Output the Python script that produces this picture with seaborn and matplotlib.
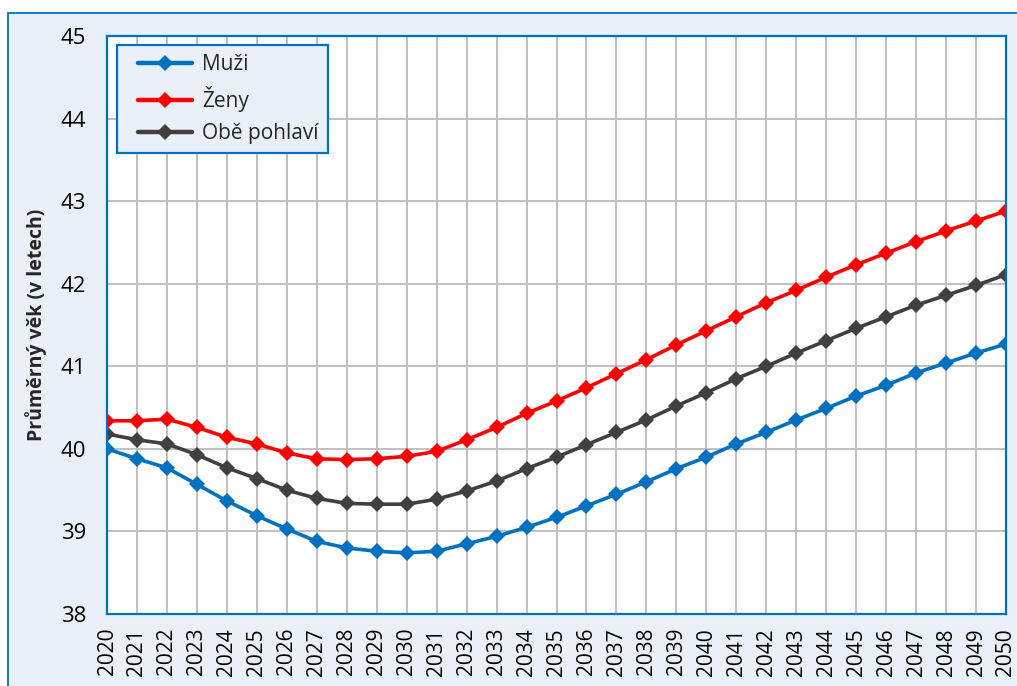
import numpy as np
import pandas as pd
import seaborn as sns
import matplotlib
matplotlib.use("Agg")
import matplotlib.pyplot as plt
from matplotlib.patches import Rectangle
from matplotlib.lines import Line2D
from matplotlib.legend_handler import HandlerLine2D

years = list(range(2020, 2051))
muzi = [40.00, 39.88, 39.77, 39.57, 39.37, 39.19, 39.03, 38.88, 38.80, 38.76, 38.74,
        38.76, 38.85, 38.94, 39.05, 39.17, 39.31, 39.45, 39.60, 39.76, 39.90,
        40.06, 40.20, 40.35, 40.49, 40.64, 40.77, 40.92, 41.04, 41.16, 41.27]
zeny = [40.34, 40.34, 40.36, 40.26, 40.14, 40.06, 39.95, 39.88, 39.87, 39.88, 39.91,
        39.97, 40.11, 40.26, 40.43, 40.58, 40.74, 40.91, 41.08, 41.26, 41.43,
        41.60, 41.77, 41.92, 42.08, 42.23, 42.37, 42.51, 42.64, 42.76, 42.88]
obe = [40.18, 40.11, 40.06, 39.93, 39.77, 39.64, 39.50, 39.40, 39.34, 39.33, 39.33,
       39.39, 39.49, 39.61, 39.76, 39.90, 40.05, 40.20, 40.35, 40.52, 40.68,
       40.85, 41.00, 41.16, 41.31, 41.46, 41.60, 41.74, 41.86, 41.98, 42.11]
series_names = ["Muži", "Ženy", "Obě pohlaví"]
colors = ["#0070C0", "#FF0000", "#404040"]
y_ticks = [38, 39, 40, 41, 42, 43, 44, 45]
y_label = "Průměrný věk (v letech)"

sns.set_theme(style="white")
plt.rcParams["font.family"] = ["Open Sans", "DejaVu Sans"]

df = pd.DataFrame({
    "rok": years * 3,
    "hodnota": muzi + zeny + obe,
    "serie": [series_names[0]] * len(years) + [series_names[1]] * len(years) + [series_names[2]] * len(years),
})

W, H = 1017, 686
fig = plt.figure(figsize=(W / 100, H / 100), dpi=100)
fig.patch.set_facecolor("white")
bg = "#EAF0F8"
fig.patches.append(Rectangle((8 / W, -0.2), 1.5, 1 - 13 / H + 0.2, transform=fig.transFigure,
                             facecolor=bg, edgecolor="#0070C0", linewidth=1.3, zorder=-10))

ax = fig.add_axes([107 / W, 1 - 614 / H, (1006 - 107) / W, (614 - 36) / H])
ax.set_zorder(1)
ax.set_facecolor("white")

sns.lineplot(data=df, x="rok", y="hodnota", hue="serie", hue_order=series_names,
             palette=dict(zip(series_names, colors)), marker="D", markersize=8,
             markeredgewidth=0, linewidth=2.6, ax=ax, zorder=3, legend=True)

ax.set_xlim(2020, 2050)
ax.set_ylim(38, 45)
ax.set_xticks(years)
ax.set_xticklabels([str(y) for y in years], rotation=90, fontsize=15, color="black")
ax.set_yticks(y_ticks)
ax.set_yticklabels([str(v) for v in y_ticks], fontsize=16, color="black")
ax.tick_params(axis="x", length=0, pad=10)
ax.tick_params(axis="y", length=0, pad=15)
ax.grid(True, color="#C0C0C0", linewidth=1.4)
ax.set_axisbelow(True)
for s in ax.spines.values():
    s.set_color("#0070C0")
    s.set_linewidth(1.6)
    s.set_visible(True)
    s.set_zorder(4)
ax.set_xlabel("")
ax.set_ylabel(y_label, fontsize=14, fontweight="bold", labelpad=10)

handles, labels = ax.get_legend_handles_labels()
leg = ax.legend(handles, labels,
                loc="upper left", bbox_to_anchor=(10 / 899, (614 - 45) / 578), borderaxespad=0,
                fontsize=15, frameon=True, fancybox=False, framealpha=1,
                facecolor=bg, edgecolor="#0070C0", handlelength=3.15, handletextpad=0.48,
                labelspacing=0.52, borderpad=0.45,
                handler_map={Line2D: HandlerLine2D(xpad=0.56)})
leg.get_frame().set_linewidth(1.6)
for line in leg.get_lines():
    line.set_linewidth(3.2)
    line.set_marker("D")
    line.set_markersize(8)

fig.savefig("out.png", dpi=100, facecolor=fig.get_facecolor())
